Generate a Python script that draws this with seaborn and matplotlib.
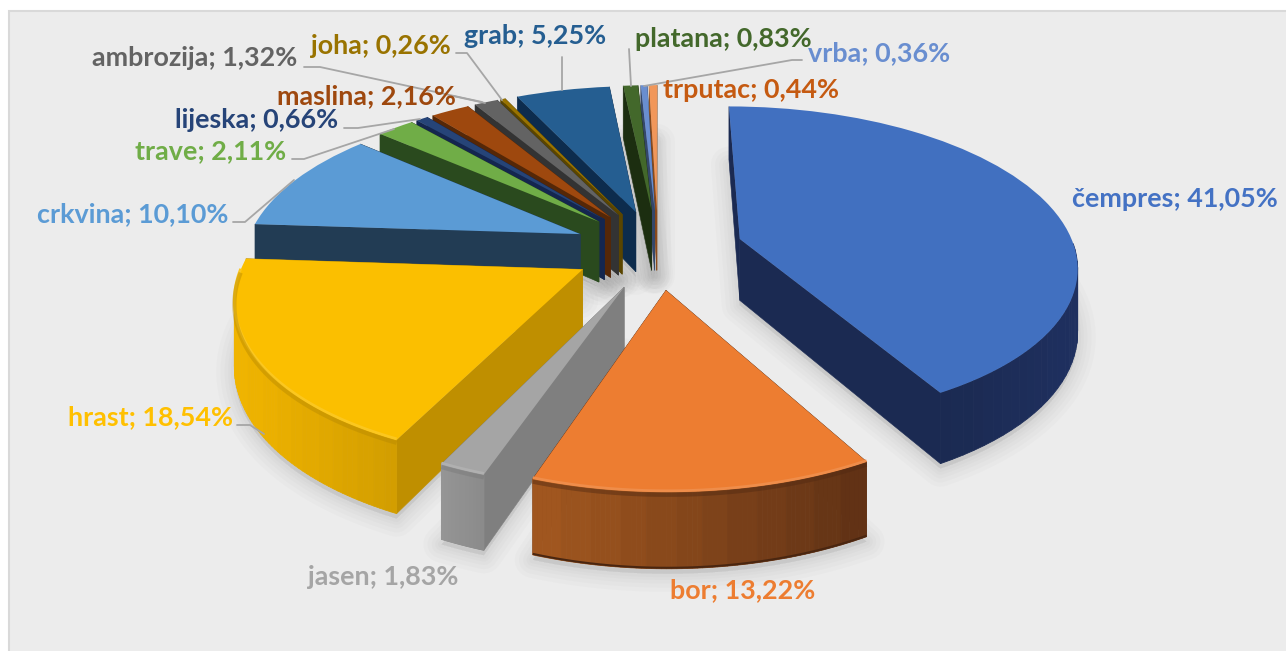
import numpy as np
import matplotlib
matplotlib.use('Agg')
import matplotlib.pyplot as plt
import matplotlib.transforms as mtransforms
from matplotlib.colors import to_rgb
from matplotlib.patches import Polygon, Rectangle
import seaborn as sns

species = ['čempres', 'bor', 'jasen', 'hrast', 'crkvina', 'trave', 'lijeska',
           'maslina', 'ambrozija', 'joha', 'grab', 'platana', 'vrba', 'trputac']
shares = [41.05, 13.22, 1.83, 18.54, 10.10, 2.11, 0.66,
          2.16, 1.32, 0.26, 5.25, 0.83, 0.36, 0.44]

top_colors = ['#4170c0', '#ed7d31', '#a5a5a5', '#fbbf00', '#5b9bd5', '#70ad47', '#264478',
              '#9e480e', '#636363', '#997300', '#255e91', '#43682b', '#698ed0', '#f1975a']
side_colors = ['#1b2a52', '#5f3015', '#7f7f7f', '#bf8f00', '#223c54', '#2a4a1e', '#14264f',
               '#552707', '#333333', '#5a4500', '#0d2c4d', '#1c2e10', '#34476a', '#8a4a1a']
# outer wall colour, left end and right end as seen on screen
rim_colors = [('#1b2a52', '#1f3060'), ('#a0561f', '#5c2f14'), ('#959595', '#8a8a8a'),
              ('#f0b400', '#d09c00'), ('#223c54', '#223c54'), ('#2a4a1e', '#2a4a1e'),
              ('#14264f', '#14264f'), ('#552707', '#552707'), ('#333333', '#333333'),
              ('#5a4500', '#5a4500'), ('#0d2c4d', '#0d2c4d'), ('#1c2e10', '#1c2e10'),
              ('#34476a', '#34476a'), ('#8a4a1a', '#8a4a1a')]
text_colors = ['#4472c4', '#ed7d31', '#a5a5a5', '#ffc000', '#5b9bd5', '#70ad47', '#264478',
               '#9e480e', '#636363', '#997300', '#255e91', '#43682b', '#698ed0', '#c55a11']

# label centres in pixels
label_x = [1175, 743, 383, 150, 133, 211, 257, 366, 195, 381, 535, 723, 879, 751]
label_y = [199, 590, 577, 417, 214, 151, 120, 96, 58, 46, 36, 39, 53, 90]

leaders = [
    [(304, 67), (320, 67), (482, 102)],
    [(456, 53), (467, 53), (502, 100)],
    [(562, 57), (562, 90)],
    [(629, 49), (631, 86)],
    [(802, 60), (792, 60), (644, 86)],
    [(453, 96), (485, 103)],
    [(344, 128), (358, 128), (420, 119)],
    [(292, 159), (304, 159), (394, 129)],
    [(233, 222), (245, 222), (294, 180)],
    [(237, 425), (250, 425), (264, 434)],
]

CX, CY = 658, 249
SX, SY = 335, 156
PERSP = 0.155
DEPTH = 62
BANDS = 12


class Tilt(mtransforms.Transform):
    # lays the flat pie on a table seen from the front
    input_dims = 2
    output_dims = 2

    def transform_non_affine(self, xy):
        xy = np.asarray(xy, dtype=float)
        w = 1 + PERSP * xy[:, 1]
        return np.column_stack([CX + SX * xy[:, 0] / w, CY - SY * xy[:, 1] / w])


def lift(pts):
    pts = np.asarray(pts, dtype=float)
    return tilt.transform(pts), DEPTH / (1 + PERSP * pts[:, 1])


def down(scr, d):
    return np.column_stack([scr[:, 0], scr[:, 1] + d])


def mix(a, b, t):
    a, b = np.array(to_rgb(a)), np.array(to_rgb(b))
    return tuple(a + (b - a) * t)


sns.set_theme(style='white')
plt.rcParams['font.family'] = ['Lato', 'DejaVu Sans']
palette = sns.color_palette(top_colors)

fig = plt.figure(figsize=(12.86, 6.51), dpi=100, facecolor='white')
ax = fig.add_axes([0, 0, 1, 1])
wedges, _ = ax.pie(shares, colors=palette, startangle=90, counterclock=False,
                   explode=[0.255] * len(shares), radius=1)
ax.set_aspect('auto')
ax.set_xlim(0, 1286)
ax.set_ylim(651, 0)
ax.axis('off')
ax.add_patch(Rectangle((9, 11), 1300, 660, fc='#ececec', ec='#d9d9d9', lw=1.5, zorder=0))

tilt = Tilt()
mids = [np.deg2rad((w.theta1 + w.theta2) / 2) for w in wedges]
order = np.argsort([-np.sin(m) for m in mids])

for rank, i in enumerate(order):
    w = wedges[i]
    base = 2 * rank + 10
    c = np.array(w.center)
    th = np.deg2rad(np.linspace(w.theta1, w.theta2, 70))
    arc = c + w.r * np.column_stack([np.cos(th), np.sin(th)])
    arc_s, arc_d = lift(arc)
    ap_s, ap_d = lift(c[None, :])

    # soft shadow on the table
    outline = np.vstack([down(ap_s, ap_d), down(arc_s, arc_d)]) + [0, 5]
    for lw in (26, 20, 14, 9, 5):
        ax.add_patch(Polygon(outline, closed=True, fc='#555555', ec='#555555', lw=lw,
                             alpha=0.022, joinstyle='round', zorder=2))

    # the two straight walls
    for end_s, end_d in ((arc_s[0], arc_d[0]), (arc_s[-1], arc_d[-1])):
        quad = [ap_s[0], end_s, end_s + [0, end_d], ap_s[0] + [0, ap_d[0]]]
        ax.add_patch(Polygon(quad, closed=True, fc=side_colors[i], ec=side_colors[i],
                             lw=0.4, zorder=base))

    # outer wall, only where it faces the viewer
    front = np.sin(th) < 0
    xs = arc_s[:, 0]
    span = max(xs[front].max() - xs[front].min(), 1) if front.any() else 1
    for k in range(len(th) - 1):
        if not (front[k] and front[k + 1]):
            continue
        t = np.floor((xs[k] - xs[front].min()) / span * BANDS) / BANDS
        col = mix(rim_colors[i][0], rim_colors[i][1], t)
        quad = [arc_s[k], arc_s[k + 1], arc_s[k + 1] + [0, arc_d[k + 1]], arc_s[k] + [0, arc_d[k]]]
        ax.add_patch(Polygon(quad, closed=True, fc=col, ec=col, lw=0.6, zorder=base))

    w.set_transform(tilt + ax.transData)
    w.set_zorder(base + 1)
    w.set_edgecolor('none')

    # rounded rim
    if front.sum() > 3 and shares[i] > 1:
        f = arc_s[front]
        d = arc_d[front]
        if i in (1, 2, 3):
            ax.plot(f[:, 0], f[:, 1] - 1, color=mix(top_colors[i], 'white', 0.12), lw=2.0,
                    zorder=base + 1.5, solid_capstyle='butt')
            ax.plot(f[:, 0], f[:, 1] + 3, color=mix(rim_colors[i][1], 'black', 0.12), lw=3.0,
                    alpha=0.45, zorder=base + 1.5, solid_capstyle='butt')
        if i == 1:
            ax.plot(f[:, 0], f[:, 1] + d - 1, color=mix(rim_colors[i][1], 'black', 0.2), lw=1.5,
                    zorder=base + 1.5, solid_capstyle='butt')

for line in leaders:
    xs, ys = zip(*line)
    ax.plot(xs, ys, color='#a6a6a6', lw=1.3, zorder=60)

for name, val, x, y, col in zip(species, shares, label_x, label_y, text_colors):
    txt = f'{name}; {val:.2f}%'.replace('.', ',')
    ax.text(x, y, txt, color=col, fontsize=19.4, fontweight='bold',
            ha='center', va='center', zorder=70)

fig.savefig('out.png', dpi=100)
